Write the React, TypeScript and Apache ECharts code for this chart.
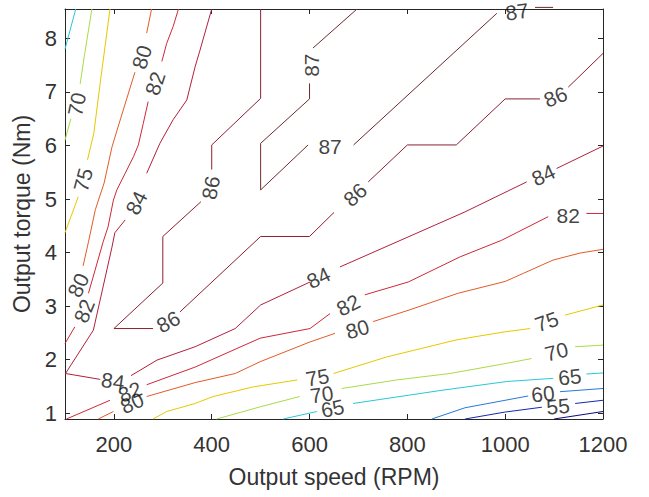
import React, { useEffect, useRef } from "react";
import * as echarts from "echarts";

type P = [number, number] | null;

const xTickValues = [200, 400, 600, 800, 1000, 1200];
const yTickValues = [1, 2, 3, 4, 5, 6, 7, 8];
const xMin = 100;
const xMax = 1200;
const yMin = 0.89;
const yMax = 8.55;

// contour paths (null = gap where a label sits)
const line87: P[] = [[697, 8.55], [607, 7.82], null, [600, 7.16], [600, 6.87], [500, 6.04], [500, 5.17], [597, 6.01], null, [690, 6.01], [983, 8.47], null, [1061, 8.58], [1098, 8.58]];
const labels87 = [[604, 7.5, 90], [642, 5.98, 0], [1024, 8.5, 8]];

const line86: P[] = [[500, 8.55], [500, 6.88], [400, 6.01], [400, 5.55], null, [378, 4.95], [300, 4.3], [300, 3.43], [200, 2.58], [280, 2.58], null, [335, 2.89], [500, 4.3], [600, 4.3], [650, 4.75], null, [720, 5.32], [800, 6.01], [900, 6.01], [1000, 6.87], [1071, 6.87], null, [1129, 7.09], [1200, 7.72]];
const labels86 = [[398, 5.21, 80], [311, 2.71, 28], [693, 5.08, 42], [1103, 6.91, 22]];

const line84: P[] = [[400, 8.55], [376, 7.78], [366, 7.47], [349, 6.85], [321, 6.48], [294, 6.04], [267, 5.48], null, [223, 4.61], [202, 4.37], [196, 4.1], [158, 2.55], [101, 1.74], [172, 1.63], null, [235, 1.7], [288, 1.99], [366, 2.24], [448, 2.58], [500, 3.02], [601, 3.45], null, [662, 3.73], [918, 4.76], [1044, 5.32], null, [1105, 5.57], [1200, 5.99]];
const labels84 = [[246, 4.93, 63], [198, 1.6, -8], [618, 3.53, 26], [1078, 5.45, 25]];

const line82: P[] = [[332, 8.55], [321, 8.22], [308, 7.91], [298, 7.57], null, [270, 6.82], [260, 6.41], [250, 6.01], [240, 5.79], [223, 5.48], [206, 5.17], [199, 4.98], [188, 4.48], [178, 4.2], [148, 3.24], null, [120, 2.61], [100, 2.3], null, [103, 0.89], [192, 1.24], null, [267, 1.53], [366, 1.86], [499, 2.4], [601, 2.58], [642, 2.86], null, [713, 3.21], [802, 3.45], [908, 3.92], [993, 4.23], [1088, 4.67], null, [1166, 4.73], [1200, 4.73]];
const labels82 = [[284, 7.16, 72], [139, 2.91, 68], [233, 1.4, 22], [679, 3.02, 27], [1129, 4.7, 0]];

const line80: P[] = [[277, 8.55], [267, 8.1], null, [243, 7.37], [219, 6.66], [196, 5.97], [180, 5.3], [162, 4.8], [148, 4.2], [137, 3.75], null, [168, 0.89], [199, 1.03], null, [267, 1.31], [366, 1.57], [448, 1.74], [499, 1.96], [601, 2.33], [652, 2.49], null, [730, 2.71], [805, 2.93], [904, 3.24], [1000, 3.46], [1098, 3.86], [1153, 3.99], [1200, 4.06]];
const labels80 = [[257, 7.65, 73], [127, 3.39, 65], [237, 1.19, 24], [698, 2.57, 16]];

const line75: P[] = [[192, 8.55], [172, 7.17], [159, 6.23], [146, 5.73], null, [127, 5.04], [100, 4.37], null, [280, 0.89], [308, 1.03], [366, 1.18], [403, 1.31], [485, 1.49], [575, 1.62], null, [649, 1.74], [758, 2.05], [901, 2.37], [1000, 2.52], [1051, 2.58], null, [1122, 2.83], [1200, 3.02]];
const labels75 = [[137, 5.36, 75], [616, 1.67, 10], [1085, 2.71, 20]];

const line70: P[] = [[155, 8.55], [140, 7.7], [131, 7.15], null, [112, 6.5], [100, 6.1], null, [410, 0.89], [500, 1.12], [580, 1.31], null, [666, 1.46], [778, 1.62], [887, 1.74], [1003, 1.93], [1054, 2.02], null, [1143, 2.24], [1200, 2.27]];
const labels70 = [[124, 6.77, 78], [625, 1.35, 8], [1105, 2.15, 14]];

const line65: P[] = [[122, 8.55], [100, 7.8], null, [546, 0.89], [615, 1.03], null, [689, 1.18], [873, 1.43], [1003, 1.59], [1098, 1.65], null, [1166, 1.73], [1200, 1.75]];
const labels65 = [[647, 1.09, 12], [1132, 1.68, 6]];

const line60: P[] = [[850, 0.89], [918, 1.1], [1047, 1.32], null, [1112, 1.4], [1200, 1.46]];
const labels60 = [[1077, 1.36, 6]];

const line55: P[] = [[918, 0.89], [1000, 1.02], [1075, 1.11], null, [1143, 1.18], [1200, 1.24]];
const labels55 = [[1108, 1.13, 5]];

const line50: P[] = [[1100, 0.89], [1200, 1.03]];
const labels50: number[][] = [];

const levels = [87, 86, 84, 82, 80, 75, 70, 65, 60, 55, 50];
const levelColors = ["#6e2a2a", "#8c2030", "#b0203c", "#d02838", "#e45a28", "#e8c800", "#a8dc48", "#28c8d8", "#2878d8", "#1828b0", "#0a0a80"];
const levelPaths = [line87, line86, line84, line82, line80, line75, line70, line65, line60, line55, line50];
const levelLabels = [labels87, labels86, labels84, labels82, labels80, labels75, labels70, labels65, labels60, labels55, labels50];

const FONT = "'Liberation Sans', Arial, Helvetica, sans-serif";
const AXIS_COLOR = "#262626";
const TEXT_COLOR = "#333333";

function splitSegments(path: P[]): [number, number][][] {
  const segs: [number, number][][] = [];
  let cur: [number, number][] = [];
  for (const p of path) {
    if (p === null) {
      if (cur.length) segs.push(cur);
      cur = [];
    } else cur.push(p);
  }
  if (cur.length) segs.push(cur);
  return segs;
}

export default function App() {
  const ref = useRef<HTMLDivElement>(null);
  useEffect(() => {
    if (!ref.current) return;
    const chart = echarts.init(ref.current, null, { renderer: "svg" });
    const series: any[] = [];
    levels.forEach((lv, i) => {
      splitSegments(levelPaths[i]).forEach((seg) => {
        series.push({
          type: "line",
          name: String(lv),
          data: seg,
          showSymbol: false,
          symbol: "none",
          clip: false,
          silent: true,
          lineStyle: { color: levelColors[i], width: 1 },
          z: 2,
        });
      });
    });
    const labelData: any[] = [];
    levels.forEach((lv, i) => {
      levelLabels[i].forEach((l) => {
        labelData.push({ name: String(lv), value: [l[0], l[1]], label: { rotate: l[2] } });
      });
    });
    series.push({
      type: "scatter",
      data: labelData,
      symbolSize: 1,
      itemStyle: { color: "rgba(0,0,0,0)" },
      silent: true,
      clip: false,
      z: 5,
      label: {
        show: true,
        position: "inside",
        formatter: "{b}",
        fontSize: 21,
        color: "#111111",
        fontFamily: FONT,
      },
    });
    const axisCommon = {
      axisLine: { show: true, onZero: false, lineStyle: { color: AXIS_COLOR, width: 1 } },
      splitLine: { show: false },
    };
    const plain = (v: number) => String(v);
    chart.setOption({
      animation: false,
      backgroundColor: "#ffffff",
      grid: { left: 65, right: 46, top: 9, bottom: 78, containLabel: false, outerBoundsMode: "none" },
      xAxis: [
        {
          type: "value",
          min: xMin,
          max: xMax,
          position: "bottom",
          name: "Output speed (RPM)",
          nameLocation: "middle",
          nameGap: 46,
          nameTextStyle: { fontSize: 23, color: TEXT_COLOR, fontFamily: FONT, verticalAlign: "top" },
          ...axisCommon,
          axisTick: { show: true, inside: true, length: 5, customValues: xTickValues, lineStyle: { color: AXIS_COLOR } },
          axisLabel: { customValues: xTickValues, formatter: plain, fontSize: 22, color: TEXT_COLOR, fontFamily: FONT, margin: 14 },
        },
        {
          type: "value",
          min: xMin,
          max: xMax,
          position: "top",
          ...axisCommon,
          axisTick: { show: true, inside: true, length: 5, customValues: xTickValues, lineStyle: { color: AXIS_COLOR } },
          axisLabel: { show: false },
        },
      ],
      yAxis: [
        {
          type: "value",
          min: yMin,
          max: yMax,
          position: "left",
          name: "Output torque (Nm)",
          nameLocation: "middle",
          nameGap: 30,
          nameTextStyle: { fontSize: 23, color: TEXT_COLOR, fontFamily: FONT },
          ...axisCommon,
          axisTick: { show: true, inside: true, length: 5, customValues: yTickValues, lineStyle: { color: AXIS_COLOR } },
          axisLabel: { customValues: yTickValues, formatter: plain, fontSize: 22, color: TEXT_COLOR, fontFamily: FONT, margin: 8 },
        },
        {
          type: "value",
          min: yMin,
          max: yMax,
          position: "right",
          ...axisCommon,
          axisTick: { show: true, inside: true, length: 5, customValues: yTickValues, lineStyle: { color: AXIS_COLOR } },
          axisLabel: { show: false },
        },
      ],
      series,
    });
    return () => chart.dispose();
  }, []);
  return (
    <div
      ref={ref}
      style={{ position: "absolute", left: 0, top: 0, width: 649, height: 497, background: "#fff" }}
    />
  );
}
